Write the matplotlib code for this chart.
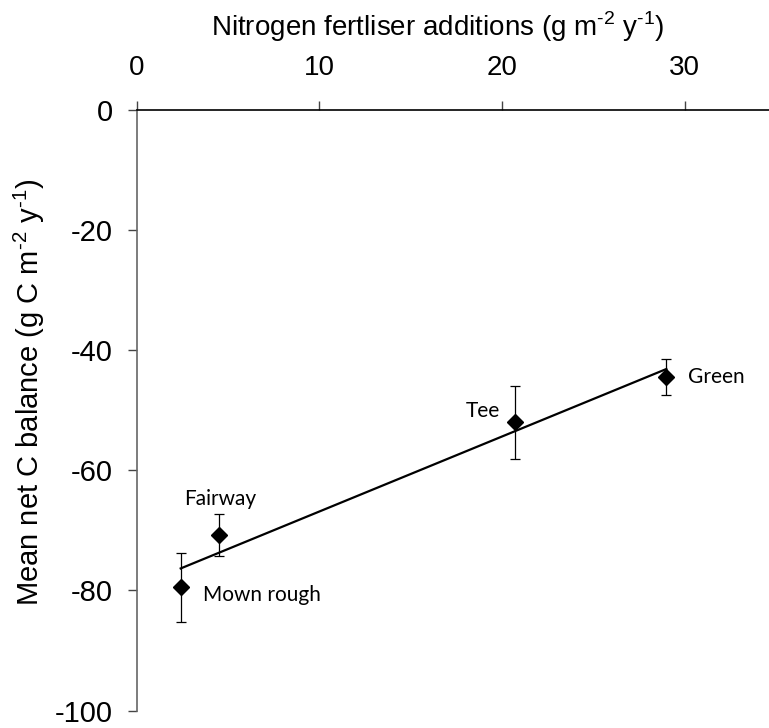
import matplotlib
matplotlib.use("Agg")
import matplotlib.pyplot as plt
import numpy as np

plt.rcParams['font.family'] = ['Liberation Sans', 'DejaVu Sans']
plt.rcParams['axes.unicode_minus'] = False
plt.rcParams['mathtext.fontset'] = 'custom'
plt.rcParams['mathtext.rm'] = 'Liberation Sans'

# Data
sites = ["Mown rough", "Fairway", "Tee", "Green"]
n_added = np.array([2.4, 4.5, 20.7, 29.0])
c_balance = np.array([-79.5, -70.8, -52.0, -44.4])
c_err = np.array([5.7, 3.5, 6.1, 3.0])

# label anchor offsets (data units) relative to each point
label_dx = [1.2, -1.9, -2.7, 1.2]
label_dy = [-1.3, 6.0, 1.9, -0.1]

fig = plt.figure(figsize=(7.69, 7.28), dpi=100)
ax = fig.add_axes([0.178, 0.024, 0.831, 0.825])

# regression line through the site means
slope, icept = np.polyfit(n_added, c_balance, 1)
xfit = np.array([n_added.min(), n_added.max()])
ax.plot(xfit, slope * xfit + icept, color='black', lw=1.6, zorder=2)

ax.errorbar(n_added, c_balance, yerr=c_err, fmt='D', color='black',
            ms=8, elinewidth=0.9, capsize=3.5, capthick=0.9, zorder=3)

for name, x, y, dx, dy in zip(sites, n_added, c_balance, label_dx, label_dy):
    ax.text(x + dx, y + dy, name, fontsize=15, family=['Lato', 'DejaVu Sans'],
            ha='left', va='center')

ax.set_xlim(0, 35)
ax.set_ylim(-100, 0)
ax.set_xticks([0, 10, 20, 30])
ax.set_yticks([0, -20, -40, -60, -80, -100])

ax.xaxis.tick_top()
ax.xaxis.set_label_position('top')
ax.spines['right'].set_visible(False)
ax.spines['bottom'].set_visible(False)
ax.spines['top'].set_color('black')
ax.spines['top'].set_linewidth(1.2)
ax.spines['left'].set_color('#666666')
ax.spines['left'].set_linewidth(1.2)

ax.tick_params(axis='x', direction='out', length=6.5, width=1, color='#444444',
               labelsize=20, pad=14)
ax.tick_params(axis='y', direction='out', length=6.5, width=1, color='#444444',
               labelsize=21, pad=11)

ax.set_xlabel("Nitrogen fertliser additions (g m$^{\\text{-2}}$ y$^{\\text{-1}}$)",
              fontsize=20)
ax.set_ylabel("Mean net C balance (g C m$^{\\text{-2}}$ y$^{\\text{-1}}$)",
              fontsize=21)
ax.xaxis.set_label_coords(0.471, 1.123)
ax.yaxis.set_label_coords(-0.141, 0.53)

fig.savefig("out.png", dpi=100)
